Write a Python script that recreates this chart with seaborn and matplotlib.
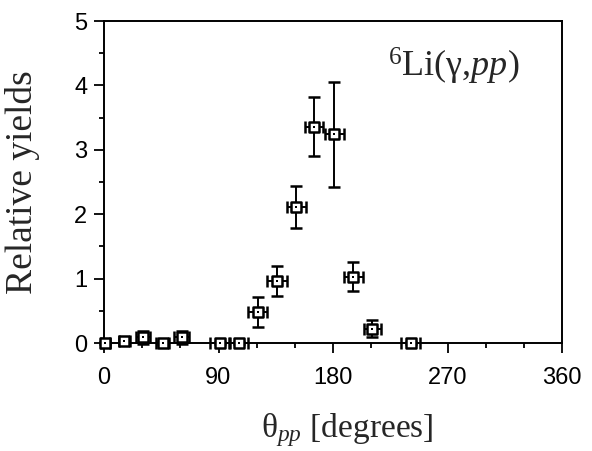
import matplotlib
matplotlib.use("Agg")
import matplotlib.pyplot as plt
import seaborn as sns
import pandas as pd
from matplotlib.ticker import MultipleLocator

# Data
theta = [1, 16, 31, 46, 61, 91, 106, 121, 136, 151, 165, 181, 196, 211, 241]
yields = [0.0, 0.03, 0.09, 0.0, 0.09, 0.0, 0.0, 0.48, 0.96, 2.11, 3.36, 3.24, 1.03, 0.22, 0.0]
yerr = [0.02, 0.03, 0.10, 0.02, 0.10, 0.02, 0.02, 0.23, 0.23, 0.33, 0.46, 0.82, 0.23, 0.13, 0.02]
xerr = [3.5, 4.5, 5.5, 5.0, 6.0, 7.5, 7.0, 7.5, 7.5, 7.5, 7.0, 7.5, 7.5, 7.0, 7.5]
x_ticks = [0, 90, 180, 270, 360]
y_ticks = [0, 1, 2, 3, 4, 5]

df = pd.DataFrame({"theta": theta, "yield": yields, "yerr": yerr, "xerr": xerr})

sns.set_style("ticks")
plt.rcParams["font.family"] = ["Liberation Sans", "DejaVu Sans"]
plt.rcParams["mathtext.fontset"] = "custom"
plt.rcParams["mathtext.rm"] = "Liberation Serif"
plt.rcParams["mathtext.it"] = "Liberation Serif:italic"
plt.rcParams["mathtext.bf"] = "Liberation Serif:bold"

fig = plt.figure(figsize=(5.92, 4.51), dpi=100)
ax = fig.add_axes([104 / 592, 1 - 343 / 451, 458 / 592, 322 / 451])

ax.errorbar(df["theta"], df["yield"], yerr=df["yerr"], xerr=df["xerr"],
            fmt="none", ecolor="black", elinewidth=1.4, capsize=4,
            capthick=1.8, clip_on=False, zorder=3)
sns.scatterplot(data=df, x="theta", y="yield", marker="s", s=52,
                facecolor="white", edgecolor="black", linewidth=1.8,
                ax=ax, zorder=4, clip_on=False, legend=False)
sns.scatterplot(data=df, x="theta", y="yield", marker="s", s=3,
                color="black", linewidth=0, ax=ax, zorder=5,
                clip_on=False, legend=False)

ax.set_xlim(0, 360)
ax.set_ylim(0, 5)
ax.set_xticks(x_ticks)
ax.set_yticks(y_ticks)
ax.xaxis.set_minor_locator(MultipleLocator(30))
ax.yaxis.set_minor_locator(MultipleLocator(0.5))
ax.tick_params(axis="both", which="major", direction="out", length=7,
               width=1.3, color="black", labelsize=17, labelcolor="black")
ax.tick_params(axis="both", which="minor", direction="out", length=3.5,
               width=1.3, color="black")
ax.tick_params(axis="x", which="major", pad=10)
ax.tick_params(axis="y", which="major", pad=5)

for side in ["left", "right", "top", "bottom"]:
    ax.spines[side].set_visible(True)
    ax.spines[side].set_linewidth(1.4)
    ax.spines[side].set_color("black")

ax.set_ylabel("Relative yields", fontsize=27, family="Liberation Serif")
ax.yaxis.set_label_coords(-0.178, 0.5)
ax.yaxis.label.set_verticalalignment("center")

ax.set_xlabel(r"$\mathrm{\theta}_{pp}$ [degrees]", fontsize=24,
              family="Liberation Serif")
ax.xaxis.set_label_coords(0.53, -0.27)
ax.xaxis.label.set_verticalalignment("center")

ax.text(0.62, 0.827, r"$^{6}\mathrm{Li}(\mathrm{\gamma}{,}pp)$",
        transform=ax.transAxes, fontsize=26, ha="left", va="baseline")

fig.savefig("out.png", dpi=100, facecolor="white")
